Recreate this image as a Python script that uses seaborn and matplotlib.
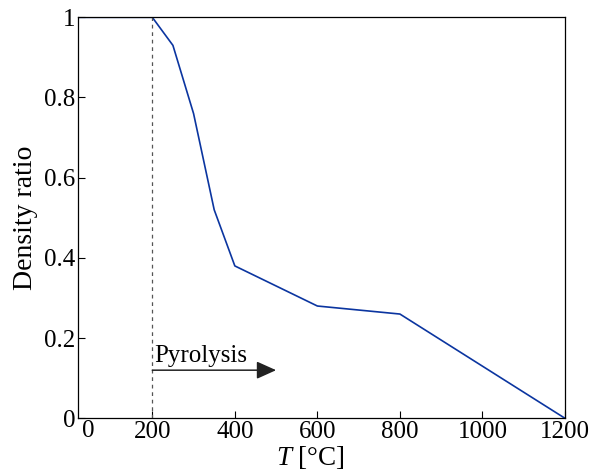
import matplotlib
matplotlib.use("Agg")
import matplotlib.pyplot as plt
import seaborn as sns
import pandas as pd

# Temperature-dependent density ratio of the material
temperature = [20, 200, 250, 300, 350, 400, 600, 800, 1200]
density_ratio = [1.0, 1.0, 0.93, 0.76, 0.52, 0.38, 0.28, 0.26, 0.0]
x_ticks = [200, 400, 600, 800, 1000, 1200]
y_ticks = [0, 0.2, 0.4, 0.6, 0.8, 1.0]
y_tick_labels = ["0", "0.2", "0.4", "0.6", "0.8", "1"]
pyrolysis_start = 200
pyrolysis_arrow_end = 500
pyrolysis_arrow_y = 0.12

sns.set_theme(style="white")
plt.rcParams["font.family"] = ["Liberation Serif", "DejaVu Serif"]
plt.rcParams["mathtext.fontset"] = "custom"
plt.rcParams["mathtext.it"] = "Liberation Serif:italic"
plt.rcParams["mathtext.rm"] = "Liberation Serif"
for key in ["text.color", "axes.labelcolor", "xtick.color", "ytick.color"]:
    plt.rcParams[key] = "black"

df = pd.DataFrame({"T": temperature, "rho": density_ratio})

fig = plt.figure(figsize=(5.92, 4.73), dpi=100)
ax = fig.add_axes([78 / 592, 1 - 418.3 / 473, (565 - 78) / 592, (418.3 - 17.3) / 473])

sns.lineplot(data=df, x="T", y="rho", ax=ax, color="#0b35a0", linewidth=1.2)

ax.set_xlim(20, 1200)
ax.set_ylim(0, 1)

# onset of pyrolysis
ax.plot([pyrolysis_start, pyrolysis_start], [0, 1], ls=(0, (3, 3)), color="#555555", lw=0.9)
ax.annotate("", xy=(pyrolysis_arrow_end, pyrolysis_arrow_y),
            xytext=(pyrolysis_start, pyrolysis_arrow_y),
            arrowprops=dict(arrowstyle="-|>,head_length=1.0,head_width=0.45",
                            color="#222222", lw=1.1, shrinkA=0, shrinkB=0))
ax.text(pyrolysis_start + 5, pyrolysis_arrow_y + 0.008, "Pyrolysis",
        fontsize=18, ha="left", va="bottom")

ax.set_xticks(x_ticks)
ax.set_xticklabels([str(t) for t in x_ticks])
ax.set_yticks(y_ticks)
ax.set_yticklabels(y_tick_labels)
ax.tick_params(axis="both", direction="in", length=5, width=0.8, labelsize=18,
               bottom=True, left=True, top=False, right=False, pad=2)
ax.text((88 - 78) / (565 - 78), -0.005, "0", transform=ax.transAxes,
        ha="center", va="top", fontsize=18)

for s in ax.spines.values():
    s.set_visible(True)
    s.set_color("black")
    s.set_linewidth(0.9)

ax.set_xlabel(r"$T$ [°C]", fontsize=19.5)
ax.set_ylabel("Density ratio", fontsize=20, labelpad=4)
ax.xaxis.set_label_coords(0.478, -0.063, transform=ax.transAxes)
ax.xaxis.label.set_va("top")

fig.savefig("out.png", dpi=100)
